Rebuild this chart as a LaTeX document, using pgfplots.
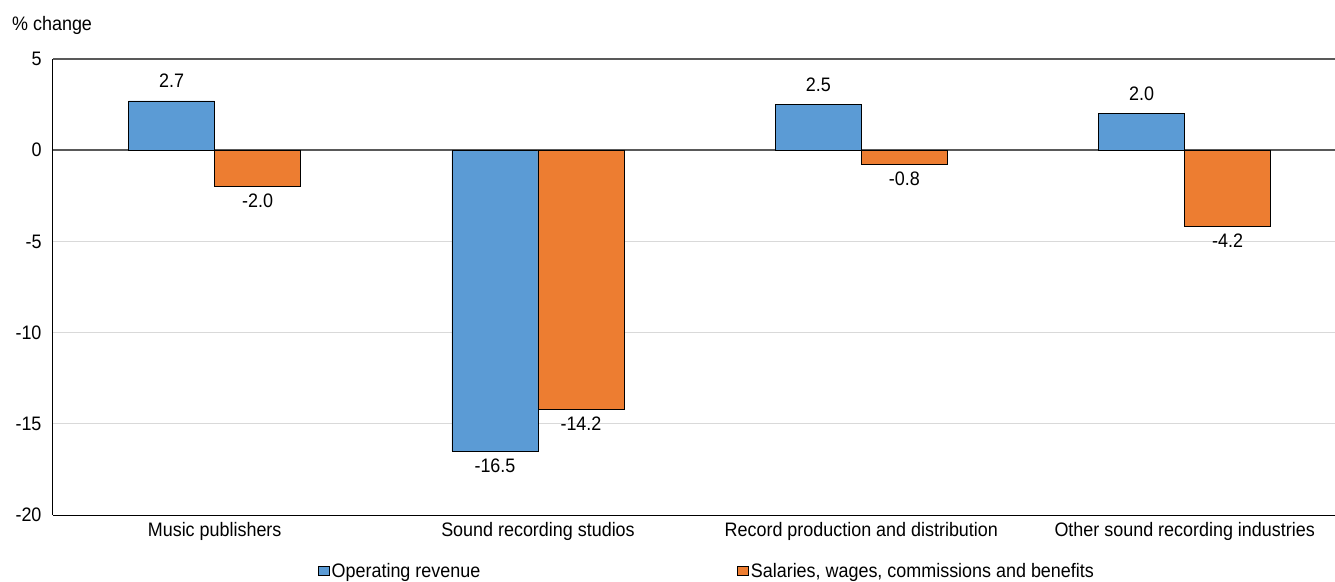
\documentclass[border=0pt]{standalone}
\usepackage{fontspec}
\setmainfont{Liberation Sans}[FakeStretch=0.92]
\usepackage{pgfplots}
\pgfplotsset{compat=1.18}
\definecolor{cblue}{HTML}{5B9BD5}
\definecolor{corange}{HTML}{ED7D31}
\definecolor{zerogray}{HTML}{595959}
\definecolor{gridgray}{HTML}{D9D9D9}
\begin{document}
\begin{tikzpicture}[font=\fontsize{19.5bp}{22bp}\selectfont]
\begin{axis}[
  scale only axis, width=1282bp, height=456bp,
  xmin=-0.5, xmax=3.465, ymin=-20, ymax=5,
  ytick={-20,-15,-10,-5,0,5},
  xtick={0,1,2,3},
  xticklabels={Music publishers, Sound recording studios, Record production and distribution, Other sound recording industries},
  /pgf/number format/assume math mode=true,
  ybar=0pt, bar width=86bp,
  axis lines*=left,
  axis line style={black, line width=1bp},
  major tick length=0pt,
  ymajorgrids, grid style={draw=gridgray, line width=1bp},
  extra y ticks={0,5}, extra y tick labels={},
  extra y tick style={grid style={draw=zerogray, line width=1.5bp}},
  yticklabel style={xshift=-8bp},
  xticklabel style={yshift=-4bp},
  visualization depends on={rawy \as \rawy},
  nodes near coords={\pgfmathprintnumber[fixed,fixed zerofill,precision=1,assume math mode=true]{\pgfplotspointmeta}},
  nodes near coords align=vertical,
  every node near coord/.append style={inner sep=7bp, black,
    yshift={6*(\rawy>0)}},
  legend columns=2,
  legend style={at={(0.5,0)}, anchor=north, yshift=-46bp, xshift=13bp, draw=none, fill=none,
    inner sep=0pt, nodes={inner sep=2bp},
    /tikz/every even column/.append style={column sep=255bp}},
]
\addplot[fill=cblue, draw=black, line width=0.8bp,
  legend image code/.code={\draw[fill=cblue, draw=black, line width=0.6bp] (0bp,-4bp) rectangle (11bp,5bp);}]
  coordinates {(0,2.7) (1,-16.5) (2,2.5) (3,2.0)};
\addlegendentry{Operating revenue}
\addplot[fill=corange, draw=black, line width=0.8bp,
  legend image code/.code={\draw[fill=corange, draw=black, line width=0.6bp] (0bp,-4bp) rectangle (11bp,5bp);}]
  coordinates {(0,-2.0) (1,-14.2) (2,-0.8) (3,-4.2)};
\addlegendentry{Salaries, wages, commissions and benefits}
\end{axis}
\path (current axis.north west) ++(-41bp,34bp) node[anchor=west, inner sep=0pt]{\% change};
\pgfresetboundingbox
\path[use as bounding box] (current axis.south west) ++(-53bp,-67bp) rectangle ++(1335bp,582bp);
\end{tikzpicture}
\end{document}
